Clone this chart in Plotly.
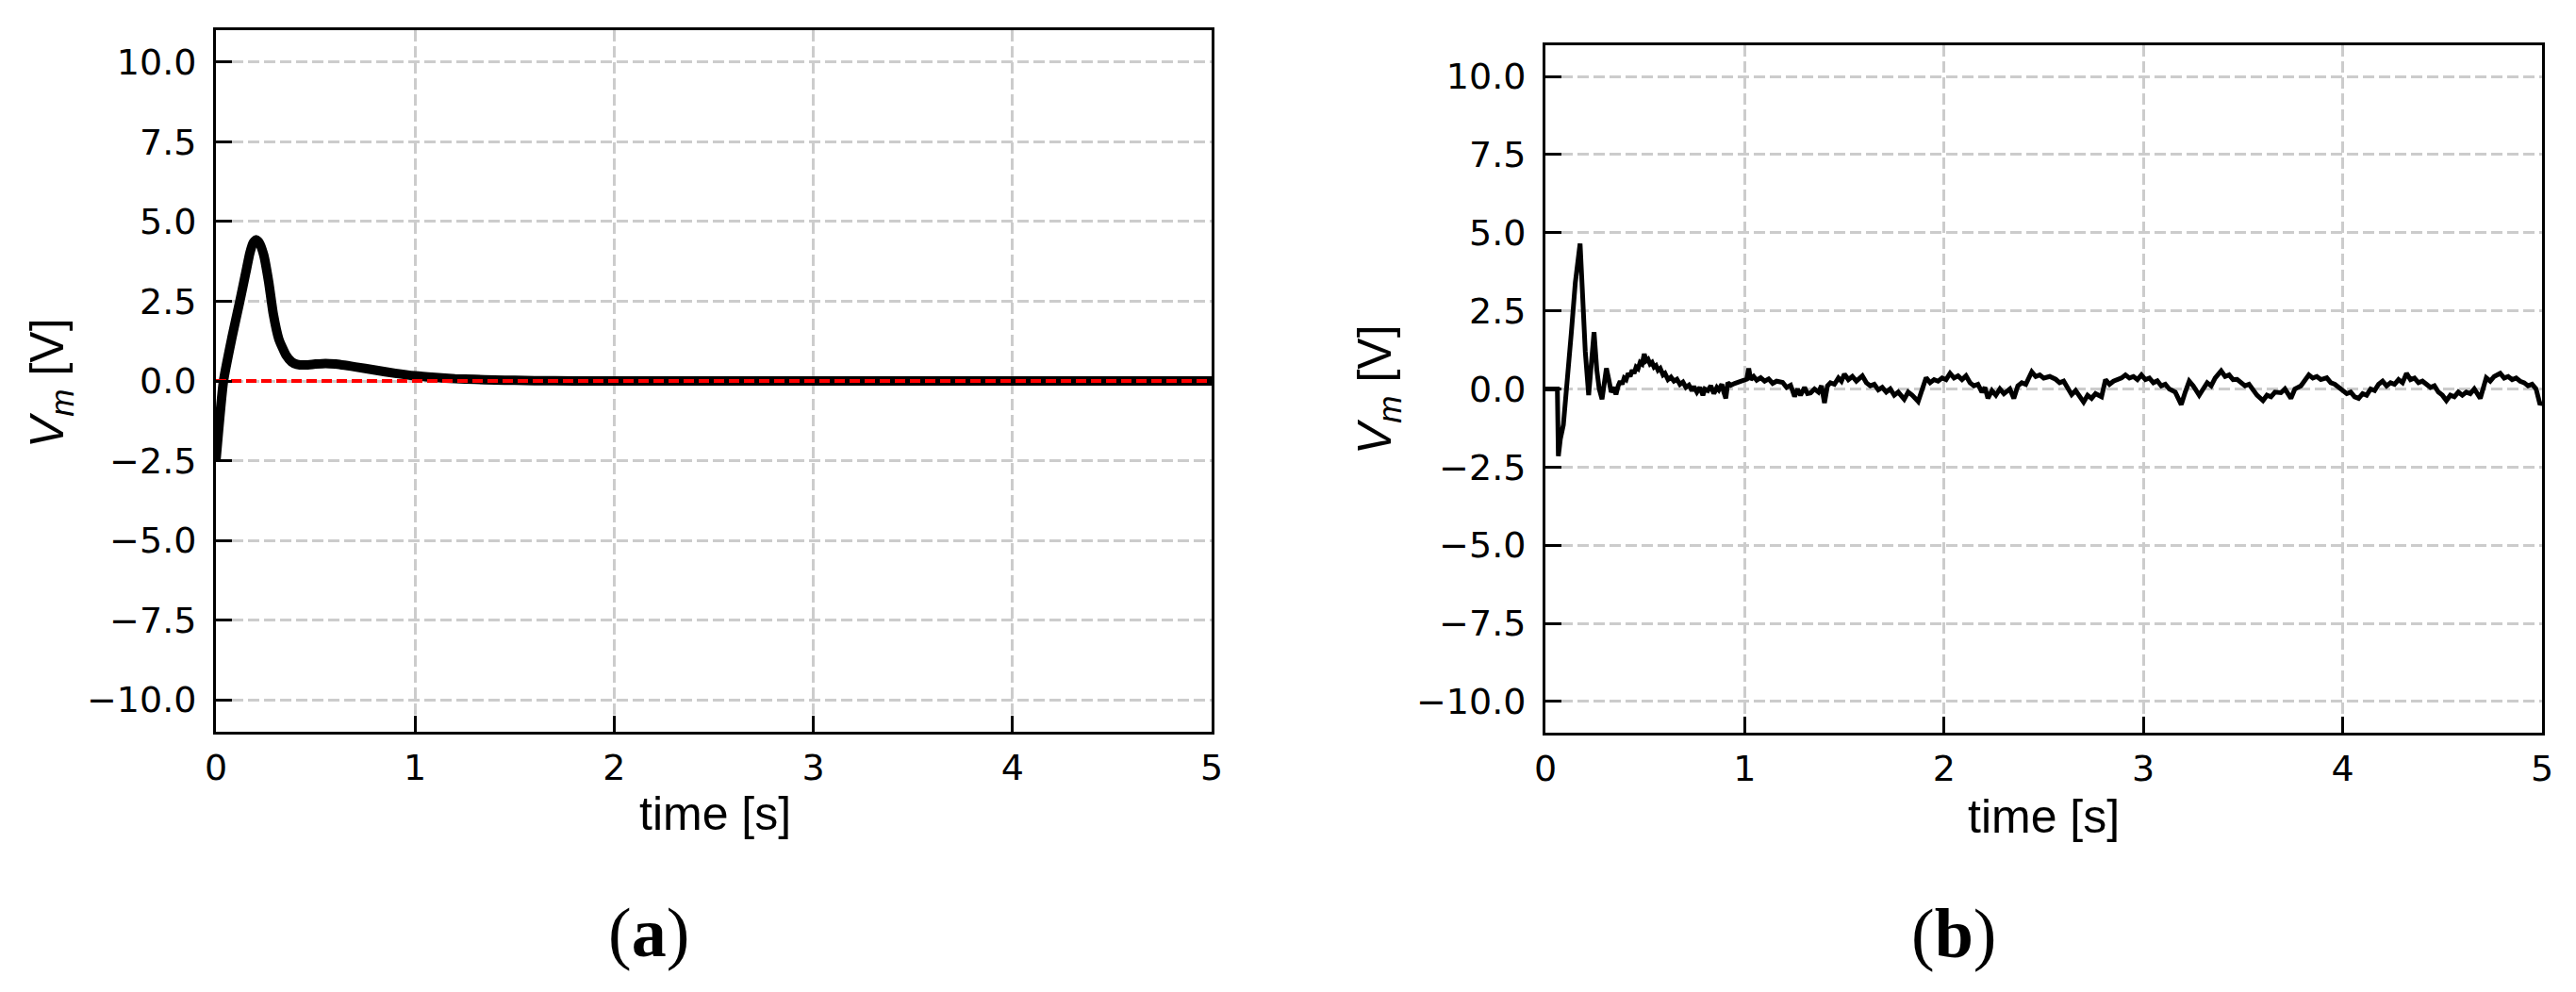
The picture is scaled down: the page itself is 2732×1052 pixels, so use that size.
import plotly.graph_objects as go
from plotly.subplots import make_subplots

# (a) simulated response
t_sim = [0.0, 0.038, 0.08, 0.12, 0.15, 0.17, 0.187, 0.202, 0.218, 0.24, 0.265, 0.288,
         0.316, 0.352, 0.38, 0.406, 0.45, 0.5, 0.55, 0.6, 0.7, 0.8, 0.9, 1.0, 1.1,
         1.2, 1.3, 1.4, 1.5, 1.6, 1.8, 2.0, 5.0]
v_sim = [-2.5, 0.0, 1.35, 2.5, 3.4, 4.0, 4.33, 4.43, 4.33, 3.95, 3.1, 2.1,
         1.31, 0.81, 0.6, 0.52, 0.5, 0.53, 0.55, 0.53, 0.44, 0.34, 0.24, 0.16, 0.11,
         0.07, 0.05, 0.03, 0.02, 0.01, 0.0, 0.0, 0.0]

# reference level (red dashed)
t_ref = [0.0, 5.0]
v_ref = [0.0, 0.0]

# (b) measured response
t_exp = [0.000, 0.060, 0.065, 0.075, 0.090, 0.110, 0.130, 0.150, 0.165, 0.174, 0.185, 0.200,
         0.217, 0.230, 0.244, 0.258, 0.270, 0.284, 0.296, 0.306, 0.318, 0.330, 0.345, 0.354,
         0.365, 0.375, 0.385, 0.395, 0.405, 0.415, 0.425, 0.435, 0.445, 0.455, 0.465, 0.475,
         0.485, 0.496, 0.505, 0.515, 0.525, 0.535, 0.545, 0.555, 0.565, 0.576, 0.590, 0.600,
         0.615, 0.630, 0.645, 0.660, 0.675, 0.690, 0.705, 0.720, 0.735, 0.745, 0.760, 0.775,
         0.790, 0.800, 0.815, 0.830, 0.845, 0.860, 0.870, 0.885, 0.895, 0.905, 0.915, 0.930,
         0.950, 0.970, 0.990, 1.010, 1.020, 1.030, 1.045, 1.060, 1.080, 1.100, 1.120, 1.140,
         1.160, 1.190, 1.210, 1.230, 1.250, 1.265, 1.280, 1.300, 1.315, 1.330, 1.350, 1.370,
         1.385, 1.400, 1.415, 1.430, 1.450, 1.470, 1.485, 1.500, 1.520, 1.540, 1.560, 1.590,
         1.610, 1.630, 1.650, 1.670, 1.690, 1.710, 1.730, 1.750, 1.770, 1.800, 1.820, 1.840,
         1.870, 1.890, 1.910, 1.930, 1.950, 1.970, 1.990, 2.010, 2.030, 2.050, 2.070, 2.090,
         2.110, 2.130, 2.150, 2.170, 2.190, 2.205, 2.220, 2.240, 2.260, 2.280, 2.300, 2.330,
         2.350, 2.370, 2.390, 2.410, 2.440, 2.460, 2.480, 2.500, 2.530, 2.560, 2.580, 2.600,
         2.620, 2.640, 2.660, 2.680, 2.700, 2.720, 2.740, 2.760, 2.790, 2.810, 2.830, 2.850,
         2.870, 2.890, 2.910, 2.930, 2.950, 2.970, 2.990, 3.010, 3.030, 3.050, 3.070, 3.090,
         3.110, 3.130, 3.160, 3.190, 3.210, 3.230, 3.250, 3.280, 3.300, 3.320, 3.340, 3.360,
         3.390, 3.410, 3.430, 3.450, 3.470, 3.490, 3.510, 3.530, 3.550, 3.570, 3.600, 3.620,
         3.640, 3.660, 3.690, 3.710, 3.740, 3.760, 3.790, 3.810, 3.830, 3.850, 3.870, 3.890,
         3.920, 3.940, 3.960, 3.980, 4.000, 4.020, 4.040, 4.060, 4.080, 4.100, 4.120, 4.140,
         4.160, 4.180, 4.200, 4.220, 4.240, 4.260, 4.280, 4.300, 4.320, 4.340, 4.360, 4.380,
         4.400, 4.420, 4.440, 4.460, 4.480, 4.500, 4.520, 4.540, 4.560, 4.580, 4.600, 4.620,
         4.640, 4.660, 4.690, 4.720, 4.740, 4.760, 4.790, 4.810, 4.830, 4.850, 4.870, 4.890,
         4.910, 4.930, 4.950, 4.970, 4.990, 5.000]
v_exp = [0.0, 0.0, -2.15, -1.6, -1.15, 0.2, 1.8, 3.4, 4.4, 4.65, 3.2, 1.2,
         -0.2, 0.8, 1.82, 0.6, 0.0, -0.33, 0.3, 0.66, 0.3, -0.1, 0.05, -0.18,
         0.1, 0.25, 0.15, 0.35, 0.3, 0.5, 0.4, 0.6, 0.5, 0.7, 0.65, 0.85,
         0.8, 1.12, 0.9, 0.95, 0.8, 0.85, 0.7, 0.75, 0.6, 0.66, 0.45, 0.5,
         0.3, 0.38, 0.25, 0.31, 0.15, 0.22, 0.05, 0.12, -0.05, 0.08, -0.1, 0.05,
         -0.2, 0.0, -0.05, 0.1, -0.15, 0.05, -0.03, 0.15, -0.1, -0.3, 0.2, 0.12,
         0.18, 0.22, 0.26, 0.31, 0.66, 0.3, 0.4, 0.28, 0.36, 0.25, 0.32, 0.18,
         0.25, 0.21, 0.05, 0.12, -0.24, 0.0, -0.2, 0.05, -0.15, -0.13, 0.0, -0.1,
         0.1, -0.45, 0.1, 0.2, 0.15, 0.35, 0.25, 0.48, 0.3, 0.4, 0.25, 0.42,
         0.2, 0.1, 0.15, -0.03, 0.05, -0.1, 0.0, -0.2, -0.1, -0.33, -0.1, -0.2,
         -0.4, 0.0, 0.36, 0.2, 0.3, 0.25, 0.35, 0.3, 0.5, 0.35, 0.42, 0.3,
         0.42, 0.2, 0.1, 0.15, -0.1, 0.05, -0.3, -0.05, -0.2, 0.0, -0.15, 0.0,
         -0.3, 0.1, 0.2, 0.15, 0.55, 0.4, 0.45, 0.35, 0.4, 0.31, 0.2, 0.25,
         0.05, -0.18, -0.05, -0.25, -0.42, -0.2, -0.3, -0.15, -0.25, 0.3, 0.15, 0.25,
         0.3, 0.35, 0.45, 0.35, 0.4, 0.3, 0.45, 0.3, 0.35, 0.2, 0.26, 0.1,
         0.15, 0.0, -0.1, -0.5, -0.1, 0.25, 0.1, -0.2, 0.0, 0.2, 0.1, 0.35,
         0.58, 0.4, 0.45, 0.3, 0.31, 0.2, 0.1, 0.15, -0.05, -0.2, -0.37, -0.2,
         -0.25, -0.1, -0.12, 0.0, -0.3, 0.0, 0.1, 0.3, 0.45, 0.35, 0.4, 0.3,
         0.36, 0.2, 0.15, 0.05, -0.05, -0.15, -0.1, -0.25, -0.3, -0.15, -0.2, 0.0,
         -0.05, 0.15, 0.25, 0.1, 0.2, 0.15, 0.3, 0.2, 0.5, 0.3, 0.35, 0.2,
         0.25, 0.14, 0.05, 0.1, -0.1, -0.2, -0.37, -0.2, -0.25, -0.1, -0.2, -0.1,
         -0.15, 0.0, -0.3, 0.36, 0.25, 0.4, 0.5, 0.35, 0.4, 0.3, 0.35, 0.25,
         0.2, 0.1, 0.15, 0.0, -0.5, -0.4]

W, H = 2732, 1052
TICK_FONT = dict(family="DejaVu Sans", size=38, color="black")
LABEL_FONT = dict(family="Liberation Sans", size=50, color="black")
CAP_FONT = dict(family="Liberation Serif", size=74, color="black")

fig = make_subplots(rows=1, cols=2)

fig.add_trace(go.Scatter(x=t_sim, y=v_sim, mode="lines",
                         line=dict(color="black", width=10, shape="spline", smoothing=0.5)),
              row=1, col=1)
fig.add_trace(go.Scatter(x=t_ref, y=v_ref, mode="lines",
                         line=dict(color="#ff0000", width=4, dash="11px,5px")),
              row=1, col=1)
fig.add_trace(go.Scatter(x=t_exp, y=v_exp, mode="lines",
                         line=dict(color="black", width=5)),
              row=1, col=2)

axis_common = dict(
    showline=True, mirror=True, linecolor="black", linewidth=3,
    ticks="inside", ticklen=17, tickwidth=3, tickcolor="black",
    showgrid=True, gridcolor="#cccccc", gridwidth=3, griddash="12px,5px",
    zeroline=False, tickfont=TICK_FONT, automargin=False,
)

fig.update_xaxes(range=[0, 5], tick0=0, dtick=1, ticklabelstandoff=2, **axis_common)
fig.update_yaxes(range=[-11, 11], tick0=0, dtick=2.5, tickformat=".1f",
                 ticklabelstandoff=10, **axis_common)

fig.update_layout(
    width=W, height=H, autosize=False,
    margin=dict(l=0, r=0, t=0, b=0, pad=0, autoexpand=False),
    paper_bgcolor="white", plot_bgcolor="white",
    showlegend=False,
    xaxis=dict(domain=[229 / W, 1285 / W]),
    yaxis=dict(domain=[1 - 776 / H, 1 - 32 / H]),
    xaxis2=dict(domain=[1639 / W, 2696 / W]),
    yaxis2=dict(domain=[1 - 777 / H, 1 - 48 / H]),
)

annotations = [
    dict(text="<i>V<sub>m</sub></i> [V]", x=53 / W, y=1 - 406 / H, textangle=-90, font=LABEL_FONT),
    dict(text="<i>V<sub>m</sub></i> [V]", x=1461 / W, y=1 - 413 / H, textangle=-90, font=LABEL_FONT),
    dict(text="time [s]", x=758 / W, y=1 - 863 / H, font=LABEL_FONT),
    dict(text="time [s]", x=2167 / W, y=1 - 866 / H, font=LABEL_FONT),
    dict(text="(<b>a</b>)", x=688 / W, y=1 - 989 / H, font=CAP_FONT),
    dict(text="(<b>b</b>)", x=2072 / W, y=1 - 990 / H, font=CAP_FONT),
]
for a in annotations:
    fig.add_annotation(xref="paper", yref="paper", xanchor="center", yanchor="middle",
                       showarrow=False, **a)

# drop the default page margin so the figure sits at the window's top-left corner
fig.write_html("out.html", config={"displayModeBar": False},
               post_script="document.body.style.margin='0';")
